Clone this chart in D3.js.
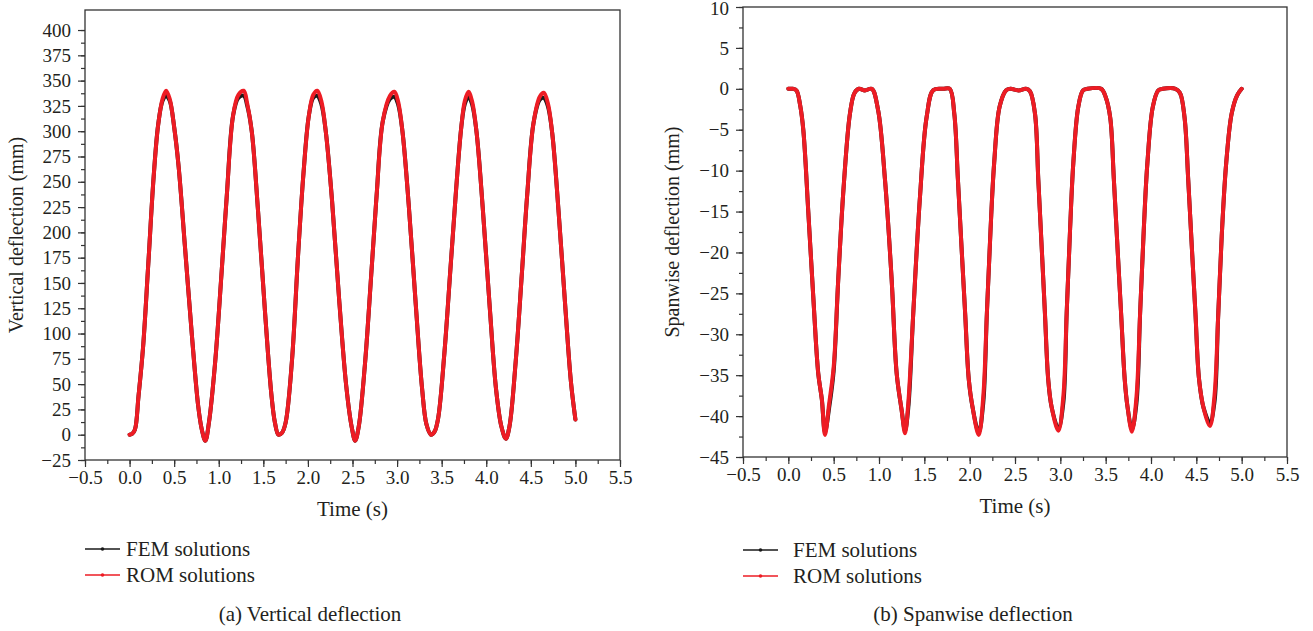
<!DOCTYPE html>
<html>
<head>
<meta charset="utf-8">
<script src="https://cdn.jsdelivr.net/npm/d3@7"></script>
<style>
body { margin: 0; background: #fff; }
text { font-family: "Liberation Serif", "DejaVu Serif", serif; fill: #231f20; }
</style>
</head>
<body>
<script>
//Data
const timeTicks = [-0.5, 0.0, 0.5, 1.0, 1.5, 2.0, 2.5, 3.0, 3.5, 4.0, 4.5, 5.0, 5.5];
const vertTicks = [-25, 0, 25, 50, 75, 100, 125, 150, 175, 200, 225, 250, 275, 300, 325, 350, 375, 400];
const spanTicks = [-45, -40, -35, -30, -25, -20, -15, -10, -5, 0, 5, 10];
const seriesNames = ["FEM solutions", "ROM solutions"];

//(a) vertical deflection
const vertTime = [0, 0.03, 0.06, 0.10, 0.15, 0.21, 0.27, 0.32, 0.37, 0.41, 0.45, 0.50, 0.55, 0.62, 0.70,
    0.77, 0.81, 0.85, 0.89, 0.96, 1.03, 1.09, 1.16, 1.22, 1.28, 1.32, 1.37, 1.44, 1.52, 1.59,
    1.63, 1.67, 1.71, 1.75, 1.82, 1.89, 1.95, 2.01, 2.06, 2.105, 2.15, 2.20, 2.27, 2.35, 2.43,
    2.49, 2.53, 2.57, 2.64, 2.71, 2.77, 2.84, 2.92, 2.97, 3.01, 3.06, 3.13, 3.21, 3.28, 3.33,
    3.38, 3.42, 3.46, 3.53, 3.60, 3.66, 3.72, 3.76, 3.80, 3.84, 3.89, 3.96, 4.04, 4.11, 4.17,
    4.22, 4.26, 4.33, 4.40, 4.46, 4.53, 4.60, 4.645, 4.69, 4.74, 4.81, 4.89, 4.95, 5.00];
const vertROM = [0, 1, 5, 38, 85, 169, 255, 306, 332, 340, 332, 304, 265, 187, 97,
    28, 5, -6, 12, 72, 158, 236, 315, 336, 340, 327, 300, 222, 120, 40,
    12, 0, 2, 12, 72, 178, 258, 315, 336, 340, 330, 300, 232, 134, 48,
    8, -6, 8, 70, 158, 236, 310, 335, 339, 330, 300, 228, 128, 46, 10,
    0, 3, 16, 80, 166, 240, 304, 330, 339, 330, 300, 225, 125, 45, 8,
    -4, 8, 72, 160, 238, 308, 334, 338, 328, 298, 222, 122, 52, 15];
const vertFEM = [0, 1, 5, 38, 85, 169, 255, 306, 330, 335, 330, 304, 265, 187, 97,
    28, 5, -6, 12, 72, 158, 236, 315, 333, 335, 325, 300, 222, 120, 40,
    12, 0, 2, 12, 72, 178, 258, 315, 333, 335, 327, 300, 232, 134, 48,
    8, -6, 8, 70, 158, 236, 310, 332, 334, 327, 300, 228, 128, 46, 10,
    0, 3, 16, 80, 166, 240, 304, 327, 334, 327, 300, 225, 125, 45, 8,
    -4, 8, 72, 160, 238, 308, 331, 333, 325, 298, 222, 122, 52, 15];

//(b) spanwise deflection
const spanTime = [0, 0.05, 0.09, 0.13, 0.165, 0.22, 0.275, 0.33, 0.37, 0.404, 0.45, 0.50, 0.55, 0.61, 0.68,
    0.73, 0.78, 0.845, 0.92, 0.99, 1.066, 1.14, 1.195, 1.25, 1.287, 1.323, 1.378, 1.452, 1.526, 1.60,
    1.71, 1.78, 1.83, 1.87, 1.91, 1.95, 1.99, 2.03, 2.10, 2.15, 2.19, 2.23, 2.27, 2.33, 2.40,
    2.45, 2.54, 2.62, 2.665, 2.72, 2.757, 2.794, 2.83, 2.867, 2.904, 2.978, 3.033, 3.07, 3.107, 3.143,
    3.198, 3.25, 3.30, 3.45, 3.50, 3.55, 3.59, 3.63, 3.67, 3.71, 3.74, 3.79, 3.84, 3.88, 3.92,
    3.96, 4.02, 4.08, 4.13, 4.27, 4.32, 4.37, 4.41, 4.45, 4.49, 4.53, 4.58, 4.65, 4.70, 4.74,
    4.78, 4.83, 4.89, 4.95, 5.00];
const spanROM = [0, 0, -0.2, -2, -5, -15, -25.4, -34.8, -38, -42.3, -38.5, -34, -23.4, -12, -3,
    -0.5, 0, -0.2, 0, -2.6, -11.1, -23.4, -34.8, -39.3, -42.1, -38.4, -27.4, -13.2, -3.4, -0.15,
    0, 0, -3, -11, -19.3, -27.4, -35.5, -38.8, -42.3, -37.6, -27.4, -17.3, -9.1, -2.2, -0.2,
    0, -0.2, 0, -0.3, -3, -11.1, -19.3, -27.4, -35.6, -38.9, -41.8, -37.6, -27.4, -17.3, -9.1,
    -2.2, -0.2, 0, 0, -1, -3.5, -11, -19.3, -27.4, -35.5, -38.8, -41.9, -37.6, -27.4, -17.3,
    -9.1, -2.2, -0.2, 0, 0, -0.5, -3.5, -11, -19.3, -27.4, -35.5, -39, -41.2, -37.5, -28,
    -18, -9, -3, -0.8, 0];
const spanFEM = [0, 0, -0.2, -2, -5, -15, -25.4, -34.8, -38, -42.0, -39.0, -34.5, -23.4, -12, -3,
    -0.5, 0, -0.2, 0, -2.6, -11.1, -23.4, -34.8, -39.3, -41.8, -39.0, -27.4, -13.2, -3.4, -0.15,
    0, 0, -3, -11, -19.3, -27.4, -35.5, -38.8, -42.0, -38.4, -27.4, -17.3, -9.1, -2.2, -0.2,
    0, -0.2, 0, -0.3, -3, -11.1, -19.3, -27.4, -35.6, -38.9, -41.5, -38.4, -27.4, -17.3, -9.1,
    -2.2, -0.2, 0, 0, -1, -3.5, -11, -19.3, -27.4, -35.5, -38.8, -41.6, -38.4, -27.4, -17.3,
    -9.1, -2.2, -0.2, 0, 0, -0.5, -3.5, -11, -19.3, -27.4, -35.5, -39, -40.8, -38.3, -28,
    -18, -9, -3, -0.8, 0];

const width = 1313;
const height = 631;
const colors = ["#1a1a1a", "#ed1c24"];

const svg = d3.select("body")
    .append("svg")
    .attr("width", width)
    .attr("height", height);

function drawPanel(p) {
    const xScale = d3.scaleLinear()
        .domain([-0.5, 5.5])
        .range([p.left, p.right]);
    const yScale = d3.scaleLinear()
        .domain(p.yDomain)
        .range([p.bottom, p.top]);

    const g = svg.append("g");

    //minor ticks
    g.append("g")
        .attr("transform", "translate(0," + p.bottom + ")")
        .call(d3.axisBottom(xScale).tickValues(d3.range(-0.5, 5.51, 0.25)).tickSize(4).tickFormat(""));
    g.append("g")
        .attr("transform", "translate(" + p.left + ",0)")
        .call(d3.axisLeft(yScale).tickValues(d3.range(p.yDomain[0], p.yTicks[p.yTicks.length - 1] + 0.01, p.yMinor)).tickSize(4).tickFormat(""));

    //major ticks
    const bottomAxis = d3.axisBottom(xScale)
        .tickValues(timeTicks)
        .tickSize(7)
        .tickPadding(4)
        .tickFormat(d3.format(".1f"));
    const leftAxis = d3.axisLeft(yScale)
        .tickValues(p.yTicks)
        .tickSize(7)
        .tickPadding(7)
        .tickFormat(d3.format("d"));
    g.append("g")
        .attr("transform", "translate(0," + p.bottom + ")")
        .call(bottomAxis);
    const yAxisG = g.append("g")
        .attr("transform", "translate(" + p.left + ",0)")
        .call(leftAxis);

    g.selectAll(".domain").remove();
    g.selectAll(".tick line").attr("stroke", "#333").attr("stroke-width", 1.2);
    g.selectAll(".tick text").style("font-size", "19px").attr("fill", "#231f20")
        .style("font-family", "'Liberation Serif', serif");
    //top label sits at the very edge of the page, nudge it so it stays whole
    yAxisG.selectAll(".tick text").filter(d => yScale(d) < 10).attr("dy", "0.42em");

    //frame
    g.append("rect")
        .attr("x", p.left)
        .attr("y", p.top)
        .attr("width", p.right - p.left)
        .attr("height", p.bottom - p.top)
        .attr("fill", "none")
        .attr("stroke", "#333")
        .attr("stroke-width", 1.3);

    //lines
    const line = d3.line()
        .x(d => xScale(d[0]))
        .y(d => yScale(d[1]))
        .curve(d3.curveCatmullRom.alpha(0.5));
    [p.fem, p.rom].forEach((vals, i) => {
        g.append("path")
            .datum(p.time.map((t, j) => [t, vals[j]]))
            .attr("d", line)
            .attr("fill", "none")
            .attr("stroke", colors[i])
            .attr("stroke-width", 4)
            .attr("stroke-linejoin", "round")
            .attr("stroke-linecap", "round");
    });

    //axis titles
    g.append("text")
        .attr("x", (p.left + p.right) / 2)
        .attr("y", p.bottom + 56)
        .attr("text-anchor", "middle")
        .style("font-size", "21px")
        .text("Time (s)");
    g.append("text")
        .attr("transform", "translate(" + p.yLabelX + "," + ((p.top + p.bottom) / 2) + ") rotate(-90)")
        .attr("text-anchor", "middle")
        .style("font-size", "20px")
        .text(p.yLabel);

    //legend
    seriesNames.forEach((name, i) => {
        const ly = p.legendY + i * 26;
        g.append("line")
            .attr("x1", p.left).attr("x2", p.left + 35)
            .attr("y1", ly).attr("y2", ly)
            .attr("stroke", colors[i])
            .attr("stroke-width", 1.3);
        g.append("circle")
            .attr("cx", p.left + 17.5).attr("cy", ly).attr("r", 1.8)
            .attr("fill", colors[i]);
        g.append("text")
            .attr("x", p.legendTextX)
            .attr("y", ly + 7)
            .style("font-size", "21px")
            .text(name);
    });

    //caption
    g.append("text")
        .attr("x", p.captionX)
        .attr("y", 621)
        .attr("text-anchor", "middle")
        .style("font-size", "21px")
        .text(p.caption);
}

drawPanel({
    left: 85, right: 620, top: 10, bottom: 460,
    yDomain: [-25, 419.8], yTicks: vertTicks, yMinor: 12.5,
    time: vertTime, fem: vertFEM, rom: vertROM,
    yLabel: "Vertical deflection (mm)", yLabelX: 23,
    legendY: 549, legendTextX: 126,
    caption: "(a) Vertical deflection", captionX: 310
});

drawPanel({
    left: 743, right: 1287, top: 7, bottom: 457,
    yDomain: [-45, 10], yTicks: spanTicks, yMinor: 2.5,
    time: spanTime, fem: spanFEM, rom: spanROM,
    yLabel: "Spanwise deflection (mm)", yLabelX: 679,
    legendY: 550, legendTextX: 793,
    caption: "(b) Spanwise deflection", captionX: 973
});
</script>
</body>
</html>
